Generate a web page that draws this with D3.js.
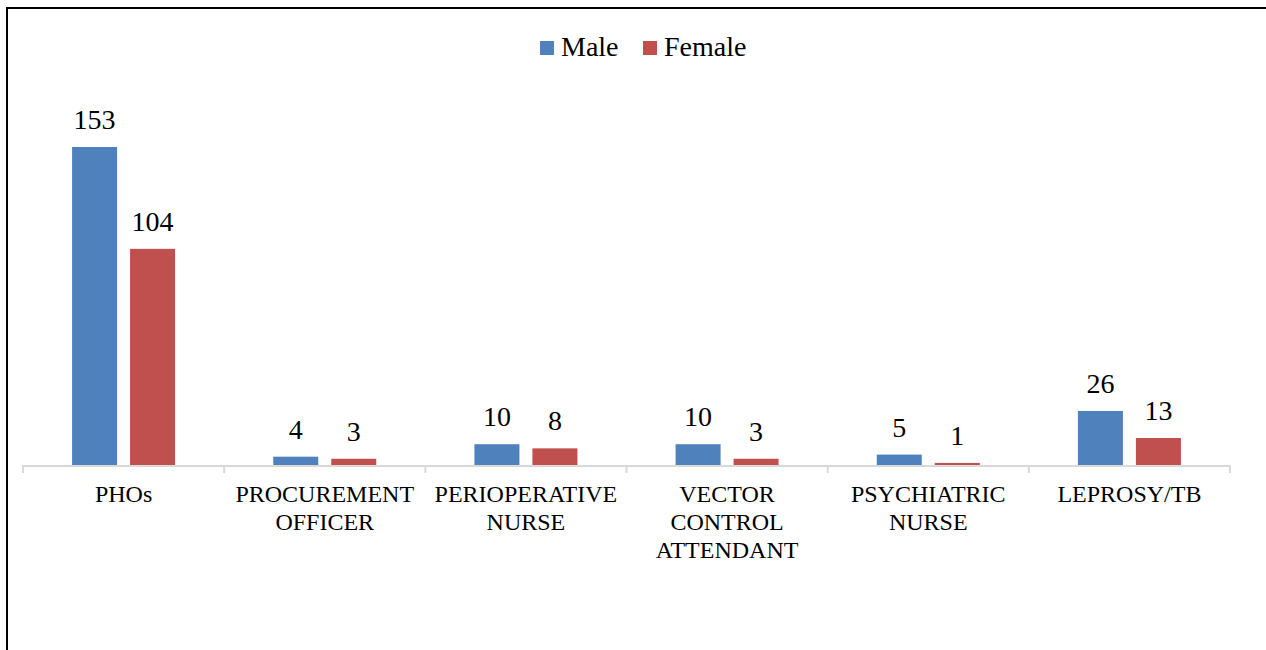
<!DOCTYPE html>
<html>
<head>
<meta charset="utf-8">
<script src="https://cdn.jsdelivr.net/npm/d3@7"></script>
<style>
  body { margin: 0; background: #fff; }
</style>
</head>
<body>
<div id="wrapper"></div>
<script>
const categories = [
    ['PHOs'],
    ['PROCUREMENT', 'OFFICER'],
    ['PERIOPERATIVE', 'NURSE'],
    ['VECTOR', 'CONTROL', 'ATTENDANT'],
    ['PSYCHIATRIC', 'NURSE'],
    ['LEPROSY/TB']
]
const seriesNames = ['Male', 'Female']
const male = [153, 4, 10, 10, 5, 26]
const female = [104, 3, 8, 3, 1, 13]
const colors = ['#4F81BD', '#C0504D']

const values = [male, female]
const keys = categories.map(c => c.join(' '))
const serif = "'Liberation Serif', 'Times New Roman', Times, 'DejaVu Serif', serif"

const wrapper = d3.select('#wrapper')
    .append('svg')
        .attr('width', 1266)
        .attr('height', 650)
        .attr('font-family', serif)
        .style('font-family', serif)

// frame (only left and top edges are visible in the picture)
wrapper.append('rect')
    .attr('x', 7)
    .attr('y', 8)
    .attr('width', 1300)
    .attr('height', 700)
    .attr('fill', 'none')
    .attr('stroke', '#000')
    .attr('stroke-width', 2)

const baseY = 465

const xScale = d3.scaleBand()
    .domain(keys)
    .range([23, 1230])
    .padding(0)

const xInner = d3.scaleBand()
    .domain(seriesNames)
    .range([0, 103])
    .paddingInner(0.224)

const yScale = d3.scaleLinear()
    .domain([0, 153])
    .range([baseY, 147])

const bounds = wrapper.append('g')

// axis line + ticks
const axis = bounds.append('g')
axis.append('line')
    .attr('x1', xScale.range()[0])
    .attr('x2', xScale.range()[1])
    .attr('y1', baseY + 1)
    .attr('y2', baseY + 1)
    .attr('stroke', '#D9D9D9')
    .attr('stroke-width', 2)

const tickPos = keys.map(k => xScale(k)).concat([xScale.range()[1]])
axis.selectAll('.tick')
    .data(tickPos)
    .join('line')
        .attr('x1', d => d)
        .attr('x2', d => d)
        .attr('y1', baseY)
        .attr('y2', baseY + 8)
        .attr('stroke', '#D9D9D9')
        .attr('stroke-width', 2)

// category labels
const catLabels = bounds.append('g')
    .selectAll('text')
    .data(categories)
    .join('text')
        .attr('x', (d, i) => xScale(keys[i]) + xScale.bandwidth() / 2)
        .attr('y', 502)
        .attr('text-anchor', 'middle')
        .attr('font-family', serif)
        .attr('font-size', 24)

catLabels.selectAll('tspan')
    .data(d => d)
    .join('tspan')
        .attr('x', function () { return d3.select(this.parentNode).attr('x') })
        .attr('dy', (d, i) => i === 0 ? 0 : 28)
        .text(d => d)

// bars
seriesNames.forEach((s, si) => {
    const g = bounds.append('g')
    const offset = x => xScale(x) + xScale.bandwidth() / 2 - 51.5 + xInner(s)

    g.selectAll('rect')
        .data(values[si])
        .join('rect')
            .attr('x', (d, i) => offset(keys[i]))
            .attr('y', d => yScale(d))
            .attr('width', xInner.bandwidth())
            .attr('height', d => baseY - yScale(d))
            .attr('fill', colors[si])

    g.selectAll('text')
        .data(values[si])
        .join('text')
            .attr('x', (d, i) => offset(keys[i]) + xInner.bandwidth() / 2)
            .attr('y', d => yScale(d) - 18)
            .attr('text-anchor', 'middle')
            .attr('font-family', serif)
            .attr('font-size', 28)
            .text(d => d)
})

// legend
const legendX = [540, 643]
const legend = wrapper.append('g')
seriesNames.forEach((s, i) => {
    legend.append('rect')
        .attr('x', legendX[i])
        .attr('y', 41)
        .attr('width', 14)
        .attr('height', 14)
        .attr('fill', colors[i])
    legend.append('text')
        .attr('x', legendX[i] + 21)
        .attr('y', 56)
        .attr('font-family', serif)
        .attr('font-size', 28)
        .text(s)
})
</script>
</body>
</html>
